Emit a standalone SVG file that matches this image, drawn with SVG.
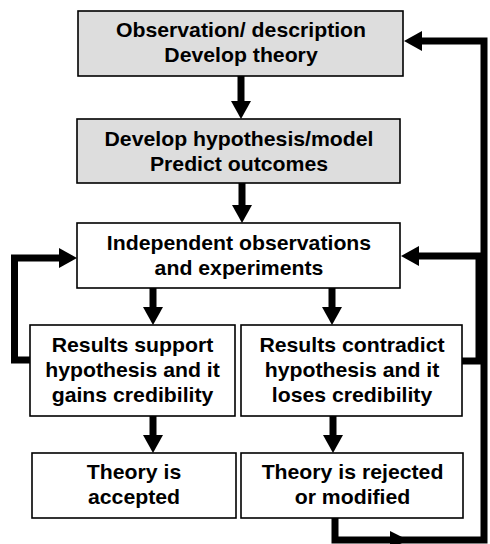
<svg xmlns="http://www.w3.org/2000/svg" width="490" height="544" viewBox="0 0 490 544">
<defs>
<style>
.box{stroke:#000;stroke-width:1.6;}
.g{fill:#dddddd;}
.w{fill:#ffffff;}
.t{font-family:"Liberation Sans",Arial,sans-serif;font-weight:bold;font-size:19.5px;text-anchor:middle;fill:#000;}
.c{fill:none;stroke:#000;stroke-width:7;stroke-linejoin:miter;stroke-linecap:butt;}
</style>
<marker id="ah" markerUnits="userSpaceOnUse" markerWidth="20" markerHeight="22" refX="0" refY="0" orient="auto" overflow="visible">
<path d="M0,-10 L18,0 L0,10 z" fill="#000"/>
</marker>
</defs>
<rect width="490" height="544" fill="#fff"/>
<g id="connectors">
<path class="c" d="M241,76 V101" marker-end="url(#ah)"/>
<path class="c" d="M242,183 V205" marker-end="url(#ah)"/>
<path class="c" d="M153,288 V307" marker-end="url(#ah)"/>
<path class="c" d="M332,288 V307" marker-end="url(#ah)"/>
<path class="c" d="M153,416 V435" marker-end="url(#ah)"/>
<path class="c" d="M333,416 V435" marker-end="url(#ah)"/>
<path class="c" d="M30,360 H14.5 V258 H59" marker-end="url(#ah)"/>
<path class="c" d="M462,361 H479 V256 H419" marker-end="url(#ah)"/>
<path class="c" d="M335,518 V540 H484 V41 H422" marker-end="url(#ah)"/>
<path d="M390,531 L408,540 L390,549 z" fill="#000"/>
</g>
<g id="n1">
<rect class="box g" x="78" y="11" width="325" height="65"/>
<text class="t" transform="translate(241,36.5) scale(1.09,1)">Observation/ description</text>
<text class="t" transform="translate(241,61.5) scale(1.09,1)">Develop theory</text>
</g>
<g id="n2">
<rect class="box g" x="77" y="119" width="323" height="64"/>
<text class="t" transform="translate(239,146) scale(1.09,1)">Develop hypothesis/model</text>
<text class="t" transform="translate(239,171) scale(1.09,1)">Predict outcomes</text>
</g>
<g id="n3">
<rect class="box w" x="77" y="223" width="323" height="65"/>
<text class="t" transform="translate(239,250) scale(1.09,1)">Independent observations</text>
<text class="t" transform="translate(239,275) scale(1.09,1)">and experiments</text>
</g>
<g id="n4">
<rect class="box w" x="30" y="325" width="205" height="91"/>
<text class="t" transform="translate(132.5,351.5) scale(1.09,1)">Results support</text>
<text class="t" transform="translate(132.5,376.5) scale(1.09,1)">hypothesis and it</text>
<text class="t" transform="translate(132.5,401.5) scale(1.09,1)">gains credibility</text>
</g>
<g id="n5">
<rect class="box w" x="241" y="325" width="221" height="91"/>
<text class="t" transform="translate(352,351.5) scale(1.09,1)">Results contradict</text>
<text class="t" transform="translate(352,376.5) scale(1.09,1)">hypothesis and it</text>
<text class="t" transform="translate(352,401.5) scale(1.09,1)">loses credibility</text>
</g>
<g id="n6">
<rect class="box w" x="32" y="453" width="204" height="65"/>
<text class="t" transform="translate(134,479) scale(1.09,1)">Theory is</text>
<text class="t" transform="translate(134,504) scale(1.09,1)">accepted</text>
</g>
<g id="n7">
<rect class="box w" x="241" y="453" width="222" height="65"/>
<text class="t" transform="translate(352.5,479) scale(1.09,1)">Theory is rejected</text>
<text class="t" transform="translate(352.5,504) scale(1.09,1)">or modified</text>
</g>
</svg>
